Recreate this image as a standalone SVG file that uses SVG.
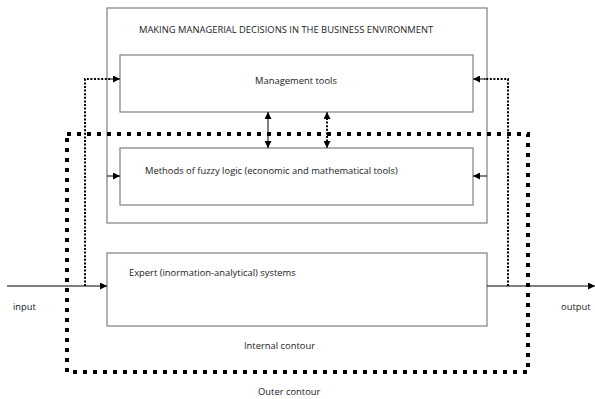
<svg xmlns="http://www.w3.org/2000/svg" width="595" height="399" viewBox="0 0 595 399">
<style>
.box{fill:#fff;stroke:#7f7f7f;stroke-width:1.2}
.t{font-family:"Open Sans","Liberation Sans",sans-serif;font-size:9.4px;fill:#222}
.ln{stroke:#000;stroke-width:1;fill:none}
.dot{stroke:#000;stroke-width:2;stroke-dasharray:2 1.6;fill:none}
.thick{stroke:#000;stroke-width:4;stroke-dasharray:4 6;fill:none}
</style>
<defs>
<marker id="ah" viewBox="0 0 10 10" refX="10" refY="5" markerWidth="9" markerHeight="7" markerUnits="userSpaceOnUse" orient="auto-start-reverse">
<path d="M0,0 L10,5 L0,10 z" fill="#000"/>
</marker>
</defs>
<g id="outer-env">
<rect class="box" x="107" y="8" width="380" height="215"/>
<text class="t" x="139" y="33">MAKING MANAGERIAL DECISIONS IN THE BUSINESS ENVIRONMENT</text>
</g>
<g id="management-tools">
<rect class="box" x="120" y="55" width="353" height="57"/>
<text class="t" x="296" y="84" text-anchor="middle">Management tools</text>
</g>
<g id="fuzzy-logic">
<rect class="box" x="120" y="148" width="353" height="57"/>
<text class="t" x="145" y="174">Methods of fuzzy logic (economic and mathematical tools)</text>
</g>
<g id="expert-systems">
<rect class="box" x="107" y="253" width="380" height="73"/>
<text class="t" x="129" y="276">Expert (inormation-analytical) systems</text>
</g>
<g id="labels">
<text class="t" x="13" y="310">input</text>
<text class="t" x="561" y="310">output</text>
<text class="t" x="244" y="349">Internal contour</text>
<text class="t" x="258" y="395">Outer contour</text>
</g>
<g id="connectors">
<line class="ln" x1="7" y1="286" x2="107" y2="286" marker-end="url(#ah)"/>
<line class="ln" x1="487" y1="286" x2="595" y2="286" marker-end="url(#ah)"/>
<polyline class="dot" points="85,286 85,79 110,79"/>
<line class="ln" x1="108" y1="79" x2="120" y2="79" marker-end="url(#ah)"/>
<polyline class="dot" points="508,286 508,79 484,79"/>
<line class="ln" x1="486" y1="79" x2="473" y2="79" marker-end="url(#ah)"/>
<line class="ln" x1="107" y1="176" x2="120" y2="176" marker-end="url(#ah)"/>
<line class="ln" x1="487" y1="176" x2="473" y2="176" marker-end="url(#ah)"/>
<line class="ln" x1="268" y1="112" x2="268" y2="148" marker-start="url(#ah)" marker-end="url(#ah)"/>
<line class="dot" x1="327" y1="118" x2="327" y2="142" stroke-width="1.5"/>
<line class="ln" x1="327" y1="118" x2="327" y2="112" marker-end="url(#ah)"/>
<line class="ln" x1="327" y1="142" x2="327" y2="148" marker-end="url(#ah)"/>
<rect class="thick" x="67" y="134" width="461" height="238"/>
</g>
</svg>
